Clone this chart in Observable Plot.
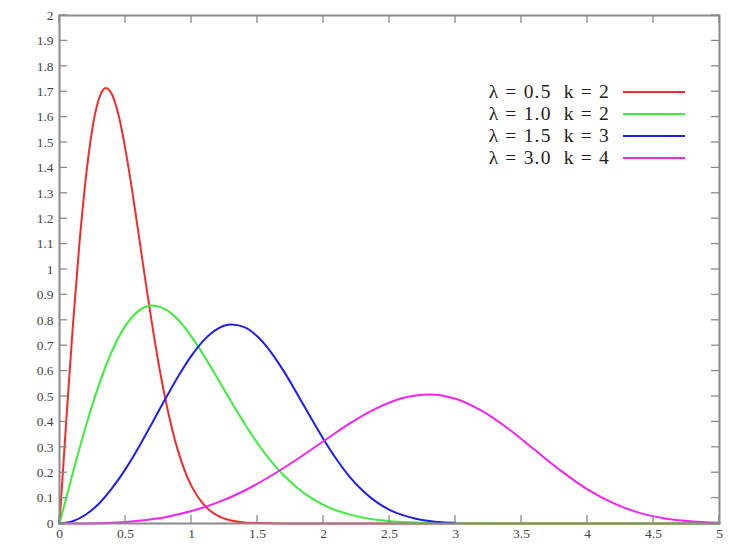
<!DOCTYPE html>
<html><head><meta charset="utf-8">
<script src="https://cdn.jsdelivr.net/npm/d3@7"></script>
<script src="https://cdn.jsdelivr.net/npm/@observablehq/plot@0.6"></script>
<style>
body{margin:0;background:#fff;}
#wrap{position:relative;width:753px;height:546px;overflow:hidden;}
.leg{position:absolute;font-family:"Liberation Serif","DejaVu Serif",serif;font-size:19.5px;letter-spacing:1.2px;color:#222;white-space:pre;line-height:19px;height:19px;}
.sw{position:absolute;height:2px;}
</style></head><body><div id="wrap"></div>
<script>
// Series values (x, density)
const xRed = [0,0.05,0.1,0.15,0.2,0.25,0.3,0.35,0.4,0.45,0.5,0.55,0.6,0.65,0.7,0.75,0.8,0.85,0.9,0.95,1.0,1.1,1.2,1.3,1.4,1.5,1.7,2.0,2.5,3.0,3.5,4.0,4.5,5.0];
const yRed = [0,0.396,0.769,1.097,1.363,1.558,1.674,1.715,1.687,1.602,1.471,1.312,1.137,0.959,0.789,0.632,0.495,0.378,0.282,0.206,0.147,0.070,0.030,0.012,0.004,0.0015,0,0,0,0,0,0,0,0];

const xGreen = [0,0.1,0.2,0.3,0.4,0.5,0.6,0.7,0.8,0.9,1.0,1.1,1.2,1.3,1.4,1.5,1.6,1.7,1.8,1.9,2.0,2.2,2.4,2.6,2.8,3.0,3.5,4.0,4.5,5.0];
const yGreen = [0,0.198,0.384,0.548,0.682,0.779,0.837,0.858,0.844,0.801,0.736,0.656,0.569,0.480,0.395,0.316,0.247,0.189,0.141,0.103,0.073,0.035,0.015,0.006,0.002,0.0007,0,0,0,0];

const xBlue = [0,0.1,0.2,0.3,0.4,0.5,0.6,0.7,0.8,0.9,1.0,1.1,1.2,1.3,1.4,1.5,1.6,1.7,1.8,1.9,2.0,2.1,2.2,2.3,2.4,2.5,2.6,2.7,2.8,2.9,3.0];
const yBlue = [0,0.009,0.0355,0.079,0.140,0.214,0.300,0.394,0.489,0.580,0.661,0.725,0.767,0.783,0.773,0.736,0.676,0.599,0.511,0.420,0.332,0.252,0.183,0.128,0.085,0.054,0.033,0.019,0.010,0.005,0.003];

const xMagenta = [0,0.2,0.4,0.6,0.8,1.0,1.2,1.4,1.6,1.8,2.0,2.2,2.4,2.6,2.8,3.0,3.2,3.4,3.6,3.8,4.0,4.2,4.4,4.6,4.8,5.0];
const yMagenta = [0,0.0004,0.003,0.011,0.025,0.049,0.083,0.129,0.187,0.253,0.324,0.394,0.453,0.494,0.508,0.491,0.443,0.373,0.290,0.207,0.134,0.079,0.041,0.019,0.008,0.003];

const seriesNames = ["λ = 0.5  k = 2","λ = 1.0  k = 2","λ = 1.5  k = 3","λ = 3.0  k = 4"];
const seriesColors = ["#f22c2c","#3aee3a","#1e1ef0","#f024f0"];

const xTicks = [0,0.5,1,1.5,2,2.5,3,3.5,4,4.5,5];
const yTicks = [0,0.1,0.2,0.3,0.4,0.5,0.6,0.7,0.8,0.9,1,1.1,1.2,1.3,1.4,1.5,1.6,1.7,1.8,1.9,2];

const xs = [xRed,xGreen,xBlue,xMagenta];
const ys = [yRed,yGreen,yBlue,yMagenta];
const rows = [];
xs.forEach((xa,i)=>xa.forEach((x,j)=>rows.push({x, y: ys[i][j], s: seriesNames[i]})));

const chart = Plot.plot({
  width: 753, height: 546,
  marginLeft: 59, marginRight: 34, marginTop: 15, marginBottom: 23,
  style: {fontFamily: '"Liberation Serif", serif', fontSize: "13.5px", color: "#444", background:"#fff"},
  x: {domain:[0,5]},
  y: {domain:[0,2]},
  color: {domain: seriesNames, range: seriesColors},
  marks: [
    Plot.axisY({ticks: yTicks, tickSize: 0, tickPadding: 6, tickFormat: d => String(d), label: null}),
    Plot.axisX({ticks: xTicks, tickSize: 0, tickPadding: 5, tickFormat: d => String(d), label: null}),
    Plot.line(rows, {x:"x", y:"y", z:"s", stroke:"s", strokeWidth:2, curve:"monotone-x"}),
    Plot.frame({stroke:"#8a8a8a", strokeWidth:2})
  ]
});
document.getElementById("wrap").appendChild(chart);

// inward tick marks on all four sides, placed through the chart's scales
const svg = d3.select(chart);
const sx = chart.scale("x"), sy = chart.scale("y");
const g = svg.append("g").attr("stroke","#8a8a8a").attr("stroke-width",1.3);
const x0 = sx.apply(0), x1 = sx.apply(5), y0 = sy.apply(0), y1 = sy.apply(2);
yTicks.forEach(t => {
  const y = sy.apply(t);
  g.append("line").attr("x1",x0).attr("x2",x0+8).attr("y1",y).attr("y2",y);
  g.append("line").attr("x1",x1).attr("x2",x1-8).attr("y1",y).attr("y2",y);
});
xTicks.forEach(t => {
  const x = sx.apply(t);
  g.append("line").attr("x1",x).attr("x2",x).attr("y1",y0).attr("y2",y0-8);
  g.append("line").attr("x1",x).attr("x2",x).attr("y1",y1).attr("y2",y1+8);
});

// legend
const wrap = document.getElementById("wrap");
seriesNames.forEach((name,i) => {
  const cy = 92 + i*22;
  const t = document.createElement("div");
  t.className = "leg";
  t.textContent = name;
  t.style.right = (753-610) + "px";
  t.style.top = (cy - 10) + "px";
  wrap.appendChild(t);
  const s = document.createElement("div");
  s.className = "sw";
  s.style.left = "623px"; s.style.width = "62px";
  s.style.top = (cy - 1) + "px";
  s.style.background = seriesColors[i];
  wrap.appendChild(s);
});
</script></body></html>
